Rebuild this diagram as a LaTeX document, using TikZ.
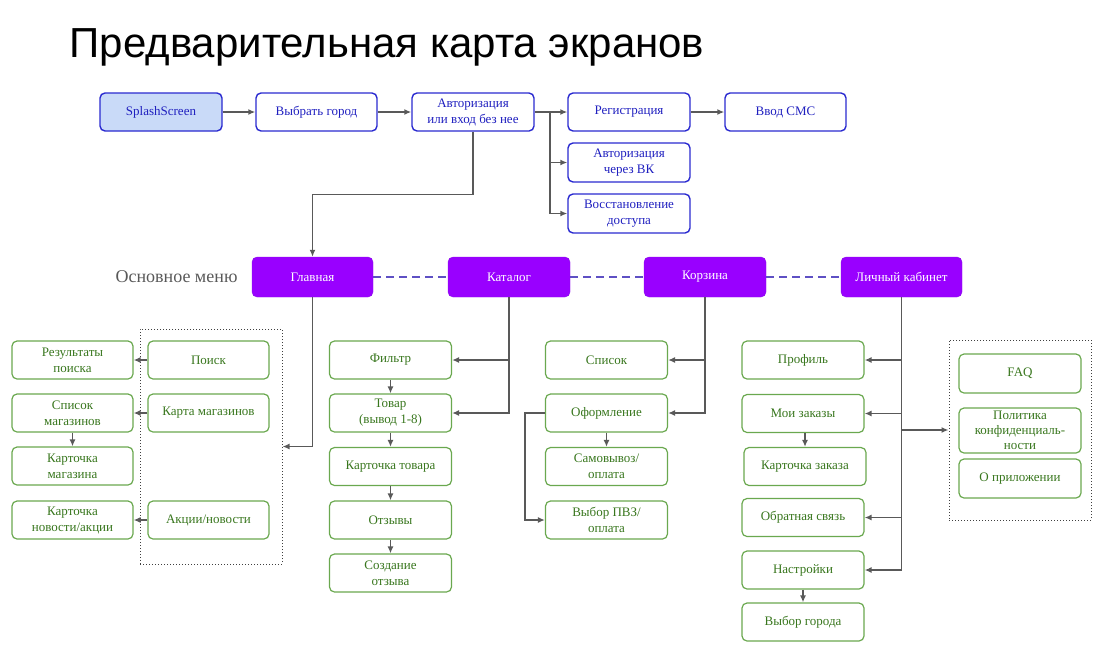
\documentclass[tikz,border=0pt]{standalone}
\usepackage{fontspec}
\setmainfont{Liberation Serif}
\newfontfamily\titlefont{Liberation Sans}
\usetikzlibrary{arrows.meta}
\definecolor{bluetext}{HTML}{1F1FBF}
\definecolor{blueline}{HTML}{2A2AD0}
\definecolor{bluefill}{HTML}{C9DAF8}
\definecolor{purplefill}{HTML}{9900FF}
\definecolor{purpleline}{HTML}{8A10E8}
\definecolor{greenline}{HTML}{6AA84F}
\definecolor{greentext}{HTML}{38761D}
\definecolor{arrowgray}{HTML}{595959}
\definecolor{dashblue}{HTML}{5E50C4}
\tikzset{>={Latex[length=7pt,width=6pt]}}
\tikzset{
  screen/.style={draw, rounded corners=5pt, minimum width=121pt, minimum height=38pt,
    align=center, inner sep=1pt, font=\fontsize{13}{16}\selectfont},
  topbox/.style={screen, draw=blueline, text=bluetext, line width=1.4pt},
  menubox/.style={screen, draw=purpleline, fill=purplefill, text=white, minimum height=40pt},
  subbox/.style={screen, draw=greenline, text=greentext, line width=1.2pt},
  groupbox/.style={draw=black!75, dotted, line width=1pt, inner sep=0pt},
  link/.style={->, draw=arrowgray, line width=1.4pt},
  menulink/.style={draw=dashblue, dash pattern=on 8pt off 5pt, line width=1.2pt}
}

\begin{document}
\begin{tikzpicture}[x=1pt, y=-1pt]
	\useasboundingbox (0,0) rectangle (1111,649);
	\node[anchor=west, font=\titlefont\fontsize{42}{46}\selectfont] (title) at (66,47) {Предварительная карта экранов};

	% top row
	\node[topbox, fill=bluefill, minimum width=122pt] (splash) at (161,112) {SplashScreen};
	\node[topbox] (city) at (316.5,112) {Выбрать город};
	\node[topbox, minimum width=122pt] (auth) at (473,112) {Авторизация\\или вход без нее};
	\node[topbox, minimum width=122pt] (reg) at (629,112) {Регистрация};
	\node[topbox] (sms) at (785.5,112) {Ввод СМС};
	\node[topbox, minimum width=122pt, minimum height=39pt] (vk) at (629,162.5) {Авторизация\\через ВК};
	\node[topbox, minimum width=122pt, minimum height=39pt] (restore) at (629,213.5) {Восстановление\\доступа};
	\coordinate (authfork) at (550,112);

	\draw[link] (splash) -- (city);
	\draw[link] (city) -- (auth);
	\draw[link] (auth.east) -- (reg.west);
	\draw[link] (authfork) |- (vk.west);
	\draw[link] (authfork) |- (restore.west);
	\draw[link] (reg) -- (sms);

	% menu
	\node[anchor=east, text=arrowgray, font=\fontsize{18}{20}\selectfont] (menulabel) at (241,277) {Основное меню};
	\node[menubox] (main) at (312.5,277) {Главная};
	\node[menubox, minimum width=122pt] (catalog) at (509,277) {Каталог};
	\node[menubox, minimum width=122pt] (cart) at (705,277) {Корзина};
	\node[menubox] (cabinet) at (901.5,277) {Личный кабинет};
	\draw[link] (auth.south) -- ++(0,63) -| (main.north);
	\draw[menulink] (main) -- (catalog);
	\draw[menulink] (catalog) -- (cart);
	\draw[menulink] (cart) -- (cabinet);

	% main
	\node[groupbox, minimum width=142pt, minimum height=235pt] (promobox) at (211,446.5) {};
	\node[subbox] (search) at (208.5,360) {Поиск};
	\node[subbox] (results) at (72.5,360) {Результаты\\поиска};
	\node[subbox] (map) at (208.5,413) {Карта магазинов};
	\node[subbox] (shops) at (72.5,413) {Список\\магазинов};
	\node[subbox] (shopcard) at (72.5,466) {Карточка\\магазина};
	\node[subbox] (promo) at (208.5,520) {Акции/новости};
	\node[subbox] (newscard) at (72.5,520) {Карточка\\новости/акции};
	\draw[link] (main.south) |- (promobox.east);
	\draw[link] (search) -- (results);
	\draw[link] (map) -- (shops);
	\draw[link] (shops) -- (shopcard);
	\draw[link] (promo) -- (newscard);

	% catalog
	\node[subbox, minimum width=122pt] (filter) at (390.5,360) {Фильтр};
	\node[subbox, minimum width=122pt] (goods) at (390.5,413) {Товар\\(вывод 1-8)};
	\node[subbox, minimum width=122pt] (goodscard) at (390.5,466.5) {Карточка товара};
	\node[subbox, minimum width=122pt] (reviews) at (390.5,520) {Отзывы};
	\node[subbox, minimum width=122pt] (newreview) at (390.5,573) {Создание\\отзыва};
	\draw[link] (catalog.south) |- (filter.east);
	\draw[link] (catalog.south) |- (goods.east);
	\draw[link] (filter) -- (goods);
	\draw[link] (goods) -- (goodscard);
	\draw[link] (goodscard) -- (reviews);
	\draw[link] (reviews) -- (newreview);

	% cart
	\node[subbox, minimum width=122pt] (list) at (606.5,360) {Список};
	\node[subbox, minimum width=122pt] (checkout) at (606.5,413) {Оформление};
	\node[subbox, minimum width=122pt] (pickup) at (606.5,466.5) {Самовывоз/\\оплата};
	\node[subbox, minimum width=122pt] (pvz) at (606.5,520) {Выбор ПВЗ/\\оплата};
	\draw[link] (cart.south) |- (list.east);
	\draw[link] (cart.south) |- (checkout.east);
	\draw[link] (checkout) -- (pickup);
	\draw[link] (checkout.west) -- ++(-20,0) |- (pvz.west);

	% cabinet
	\node[subbox, minimum width=122pt] (profile) at (803,360) {Профиль};
	\node[subbox, minimum width=122pt] (orders) at (803,413.5) {Мои заказы};
	\node[subbox, minimum width=122pt] (ordercard) at (805,466.5) {Карточка заказа};
	\node[subbox, minimum width=122pt] (feedback) at (803,517.5) {Обратная связь};
	\node[subbox, minimum width=122pt] (settings) at (803,570) {Настройки};
	\node[subbox, minimum width=122pt] (citychoice) at (803,622) {Выбор города};
	\node[groupbox, minimum width=142pt, minimum height=180pt] (infobox) at (1020,430) {};
	\node[subbox, minimum width=122pt, minimum height=39pt] (faq) at (1020,373.5) {FAQ};
	\node[subbox, minimum width=122pt, minimum height=45pt, font=\fontsize{13}{15}\selectfont] (policy) at (1020,430.5) {Политика\\конфиденциаль-\\ности};
	\node[subbox, minimum width=122pt, minimum height=39pt] (about) at (1020,478.5) {О приложении};
	\draw[link] (cabinet.south) |- (profile.east);
	\draw[link] (cabinet.south) |- (orders.east);
	\draw[link] (cabinet.south) |- (feedback.east);
	\draw[link] (cabinet.south) |- (settings.east);
	\draw[link] (cabinet.south) |- (infobox.west);
	\draw[link] (orders.south -| ordercard.north) -- (ordercard.north);
	\draw[link] (settings) -- (citychoice);
\end{tikzpicture}
\end{document}
